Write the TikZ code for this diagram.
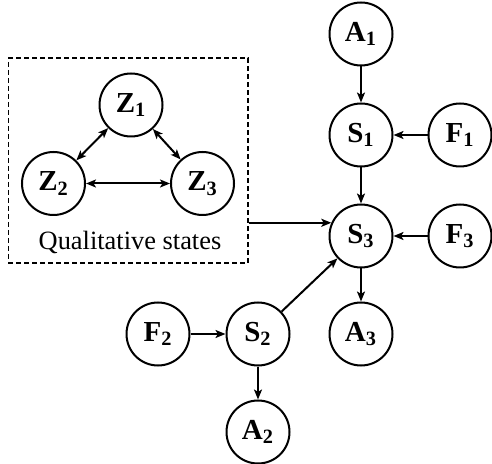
\documentclass[tikz,border=0pt]{standalone}
\usepackage{fontspec}
\setmainfont{Liberation Serif}
\usetikzlibrary{arrows.meta}
\begin{document}
\begin{tikzpicture}[x=0.5pt,y=-0.5pt,
  st/.style={circle,draw,line width=1pt,minimum size=31.5pt,inner sep=0pt,
    font=\fontsize{14.5}{14.5}\selectfont\bfseries},
  conn/.style={line width=1pt,-{Stealth[length=5pt,width=4pt,inset=1.2pt]}},
  biconn/.style={line width=1pt,{Stealth[length=5pt,width=4pt,inset=1.2pt]}-{Stealth[length=5pt,width=4pt,inset=1.2pt]}},
  qbox/.style={draw,dashed,dash pattern=on 2.5pt off 1.5pt,line width=0.75pt,
    minimum width=119.8pt,minimum height=102.5pt,inner sep=0pt}]
\useasboundingbox (0,0) rectangle (492,464);
\node[qbox] (box) at (128.15,160.5) {};
\node (qtext) at (130,242) {\fontsize{13.2}{13.2}\selectfont Qualitative states};
\node[st] (Z1) at (131,105) {Z\textsubscript{1}};
\node[st] (Z2) at (53.5,183.5) {Z\textsubscript{2}};
\node[st] (Z3) at (202.5,183.5) {Z\textsubscript{3}};
\node[st] (A1) at (361,34) {A\textsubscript{1}};
\node[st] (S1) at (361,135) {S\textsubscript{1}};
\node[st] (F1) at (460,135) {F\textsubscript{1}};
\node[st] (S3) at (361,236) {S\textsubscript{3}};
\node[st] (F3) at (460,236) {F\textsubscript{3}};
\node[st] (A3) at (361,334) {A\textsubscript{3}};
\node[st] (S2) at (258,334) {S\textsubscript{2}};
\node[st] (F2) at (158,334) {F\textsubscript{2}};
\node[st] (A2) at (258,432) {A\textsubscript{2}};
\draw[biconn] (Z1) -- (Z2);
\draw[biconn] (Z1) -- (Z3);
\draw[biconn] (Z2) -- (Z3);
\draw[conn] (A1) -- (S1);
\draw[conn] (F1) -- (S1);
\draw[conn] (S1) -- (S3);
\draw[conn] (F3) -- (S3);
\draw[conn] (S3) -- (A3);
\draw[conn] (F2) -- (S2);
\draw[conn] (S2) -- (A2);
\draw[conn] (S2) -- (S3);
\draw[conn] (box.east |- S3.156) -- (S3.156);
\end{tikzpicture}
\end{document}
